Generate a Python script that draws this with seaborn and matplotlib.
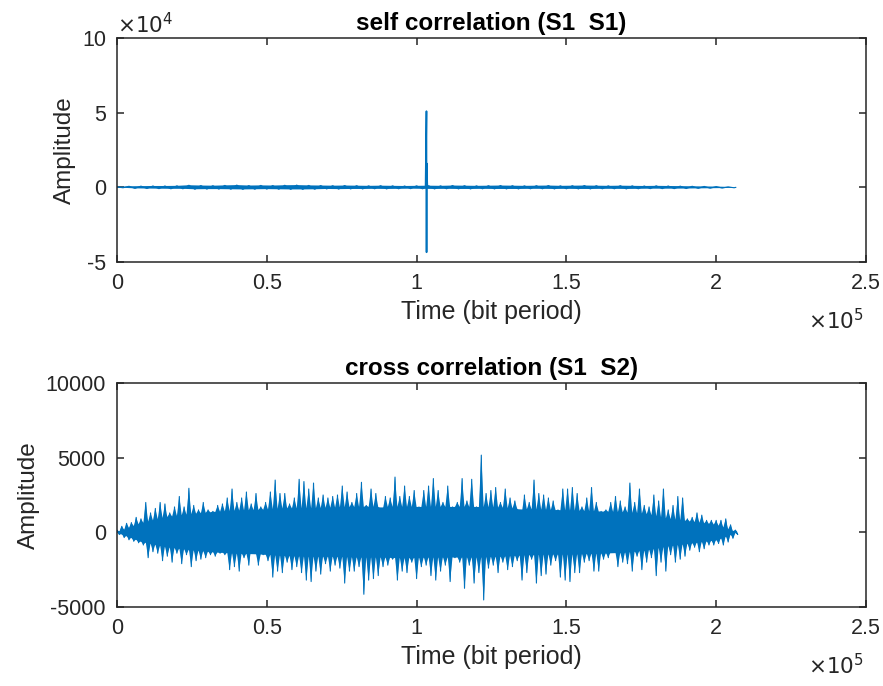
import numpy as np
import pandas as pd
import matplotlib
matplotlib.use("Agg")
import matplotlib.pyplot as plt
import seaborn as sns
from matplotlib.ticker import FuncFormatter, FixedLocator

# ---------------- data ----------------
# self correlation (S1 S1): narrow noise band + central peak
self_step = 4000
self_end = 206600
self_hi = [300, 700, 800, 900, 900, 1000, 1400, 1200, 1100, 1300, 1500, 1200,
           1300, 1200, 1400, 1500, 1300, 1200, 1100, 1200, 1100, 1000, 1100,
           1000, 900, 1000, 1100, 1000, 1200, 1100, 1000, 1100, 1200, 1100,
           1000, 1100, 1200, 1000, 1100, 1200, 1100, 1000, 1100, 1000, 900,
           1000, 900, 800, 700, 600, 500, 300]
self_lo = [-300, -700, -800, -900, -1000, -1000, -1300, -1200, -1200, -1300,
           -1400, -1300, -1200, -1300, -1400, -1400, -1300, -1100, -1200,
           -1100, -1100, -1000, -1100, -1000, -900, -1000, -1100, -1000,
           -1100, -1100, -1000, -1100, -1100, -1100, -1000, -1000, -1100,
           -1000, -1100, -1100, -1000, -1000, -1100, -1000, -900, -900, -900,
           -800, -700, -600, -500, -300]
self_peak_x = [103000, 103300, 103330, 103360, 103600]
self_peak_y = [0, 51000, -43500, 16000, 0]

# cross correlation (S1 S2): upper / lower extremes per 1600-bit bin
cross_step = 1600
cross_end = 206700
cross_hi = [150, 400, 600, 650, 1000, 900, 2000, 1300, 1600, 2000, 1900, 1300,
            1700, 2400, 1700, 2950, 1800, 1500, 2000, 1500, 1400, 1800, 1900,
            2300, 2900, 2000, 2300, 2700, 1900, 2600, 1700, 2000, 2700, 3500,
            2600, 2600, 1900, 2300, 3550, 3400, 2900, 3300, 2300, 2500, 2300,
            2400, 2500, 3100, 2700, 2000, 2600, 3350, 1800, 2900, 2600, 1600,
            2400, 2300, 3700, 2400, 3100, 2400, 2800, 1700, 2800, 3100, 3600,
            2800, 2000, 3100, 1700, 2000, 3600, 2100, 3550, 1700, 5170, 2600,
            2800, 3000, 2000, 2900, 2300, 2100, 1400, 2500, 2000, 3500, 2600,
            2500, 2300, 2100, 1500, 2900, 2900, 3000, 2600, 1700, 2300, 3000,
            2000, 1400, 1500, 2000, 2400, 2100, 1700, 3300, 2000, 2900, 1800,
            1700, 2500, 2100, 2900, 1500, 1800, 2400, 2300, 900, 1000, 1300,
            1150, 800, 800, 800, 800, 900, 500, 150]
cross_lo = [-150, -350, -500, -600, -700, -850, -1700, -1300, -1400, -1900,
            -1600, -2000, -1400, -2100, -1500, -2300, -1900, -1800, -1700,
            -1500, -1600, -1400, -1500, -2500, -2300, -2600, -1700, -2200,
            -1100, -2200, -1500, -1900, -3000, -2600, -2700, -2000, -2500,
            -2300, -2700, -3200, -3300, -2600, -2800, -2100, -2600, -2200,
            -2400, -3400, -2600, -2600, -2300, -4150, -3200, -3100, -2900,
            -2300, -2200, -1800, -3200, -2600, -2700, -2000, -3100, -2300,
            -2200, -2900, -3200, -2600, -2200, -3300, -1700, -2000, -3750,
            -2200, -3400, -2700, -4530, -2400, -2200, -2700, -2000, -2500,
            -2300, -1900, -3200, -2700, -1800, -3400, -2900, -2800, -2200,
            -1900, -3000, -3200, -3300, -2700, -2700, -2000, -1900, -2600,
            -2600, -1800, -1700, -1300, -2300, -2000, -2100, -2600, -1600,
            -2500, -2000, -1700, -2900, -2000, -2600, -1500, -2000, -1800,
            -1600, -1200, -1000, -1300, -1100, -850, -850, -750, -850, -650,
            -400, -150]
# solid inner core of the cross-correlation band
core_x = [0, 8000, 16000, 24000, 32000, 40000, 48000, 56000, 64000, 72000,
          80000, 88000, 96000, 104000, 112000, 120000, 128000, 136000, 144000,
          152000, 160000, 168000, 176000, 184000, 192000, 200000, 206700]
core_hi = [0, 600, 1000, 1200, 1350, 1450, 1500, 1600, 1600, 1650, 1700, 1700,
           1700, 1700, 1700, 1700, 1650, 1550, 1500, 1450, 1400, 1350, 1250,
           900, 700, 500, 0]
core_lo = [0, -600, -950, -1150, -1300, -1400, -1450, -1550, -1600, -1600,
           -1650, -1650, -1700, -1650, -1650, -1650, -1600, -1500, -1450,
           -1450, -1400, -1350, -1200, -900, -700, -500, 0]

titles = ["self correlation (S1  S1)", "cross correlation (S1  S2)"]
x_label = "Time (bit period)"
y_label = "Amplitude"
x_ticks = [0, 0.5e5, 1e5, 1.5e5, 2e5, 2.5e5]
top_y_ticks = [-5e4, 0, 5e4, 10e4]
bot_y_ticks = [-5000, 0, 5000, 10000]

# ---------------- style ----------------
sns.set_style("ticks")
plt.rcParams["font.family"] = ["Liberation Sans", "DejaVu Sans"]
LINE = "#0072BD"
DARK = "#262626"
plt.rcParams.update({
    "axes.edgecolor": DARK, "axes.linewidth": 1.1,
    "xtick.color": DARK, "ytick.color": DARK,
    "xtick.direction": "in", "ytick.direction": "in",
    "xtick.major.size": 5, "ytick.major.size": 5,
    "xtick.major.width": 1.1, "ytick.major.width": 1.1,
    "xtick.top": True, "ytick.right": True,
})


def zigzag(step, hi, lo, end):
    xs = [k * step for k in range(len(hi))]
    half = step / 2
    zx, zy = [0.0], [0.0]
    for x, h, l in zip(xs, hi, lo):
        zx += [x, x + half]
        zy += [h, l]
    zx.append(end)
    zy.append(0.0)
    poly_x = [0.0] + xs + [end] + [x + half for x in xs][::-1]
    poly_y = [0.0] + list(hi) + [0.0] + list(lo)[::-1]
    return pd.DataFrame({"x": zx, "y": zy}), poly_x, poly_y


def spiky_polygon(step, hi, lo, end, cx, chi, clo):
    """Polygon whose upper edge goes peak -> core valley -> peak, lower likewise."""
    xs = np.arange(len(hi)) * step
    half = step / 2
    up_x, up_y = [0.0], [0.0]
    for x, h in zip(xs, hi):
        v = np.interp(x + half, cx, chi)
        up_x += [x, x + half]
        up_y += [h, min(v, h)]
    low_x, low_y = [], []
    for x, l in zip(xs, lo):
        v = np.interp(x, cx, clo)
        low_x += [x, x + half]
        low_y += [max(v, l), l]
    px = up_x + [end] + low_x[::-1]
    py = up_y + [0.0] + low_y[::-1]
    return px, py


fig = plt.figure(figsize=(8.83, 6.86), dpi=100)
ax1 = fig.add_axes([0.1325, 0.6181, 0.8482, 0.3265])
ax2 = fig.add_axes([0.1325, 0.1152, 0.8482, 0.3265])

# top
df1, px1, py1 = zigzag(self_step, self_hi, self_lo, self_end)
ax1.fill(px1, py1, color=LINE, lw=0)
sns.lineplot(data=df1, x="x", y="y", ax=ax1, color=LINE, lw=0.8,
             sort=False, estimator=None)
dfp = pd.DataFrame({"x": self_peak_x, "y": self_peak_y})
sns.lineplot(data=dfp, x="x", y="y", ax=ax1, color=LINE, lw=1.2,
             sort=False, estimator=None)

# bottom
df2, _, _ = zigzag(cross_step, cross_hi, cross_lo, cross_end)
px2, py2 = spiky_polygon(cross_step, cross_hi, cross_lo, cross_end,
                         core_x, core_hi, core_lo)
ax2.fill(px2, py2, color=LINE, lw=0)
ax2.fill_between(core_x, core_lo, core_hi, color=LINE, lw=0)
sns.lineplot(data=df2, x="x", y="y", ax=ax2, color=LINE, lw=0.8,
             sort=False, estimator=None)

for ax, title, yt in [(ax1, titles[0], top_y_ticks), (ax2, titles[1], bot_y_ticks)]:
    ax.set_xlim(0, 2.5e5)
    ax.set_ylim(yt[0], yt[-1])
    ax.xaxis.set_major_locator(FixedLocator(x_ticks))
    ax.yaxis.set_major_locator(FixedLocator(yt))
    ax.xaxis.set_major_formatter(FuncFormatter(lambda v, p: "%g" % (v / 1e5)))
    ax.set_title(title, fontsize=17.5, fontweight="bold", color="black", pad=6)
    ax.set_xlabel(x_label, fontsize=18, color=DARK, labelpad=4)
    ax.set_ylabel(y_label, fontsize=17.5, color=DARK, labelpad=4)
    ax.tick_params(labelsize=15.5, pad=8)
    for s in ax.spines.values():
        s.set_visible(True)
    ax.text(0.922, -0.268, r"$\times10^5$", transform=ax.transAxes,
            fontsize=15.5, color=DARK, ha="left", va="center",
            math_fontfamily="dejavusans")

ax1.yaxis.set_major_formatter(FuncFormatter(lambda v, p: "%g" % (v / 1e4)))
ax2.yaxis.set_major_formatter(FuncFormatter(lambda v, p: "%g" % v))
ax1.text(0.0, 1.055, r"$\times10^4$", transform=ax1.transAxes,
         fontsize=15.5, color=DARK, ha="left", va="center",
         math_fontfamily="dejavusans")

fig.savefig("out.png", dpi=100)
